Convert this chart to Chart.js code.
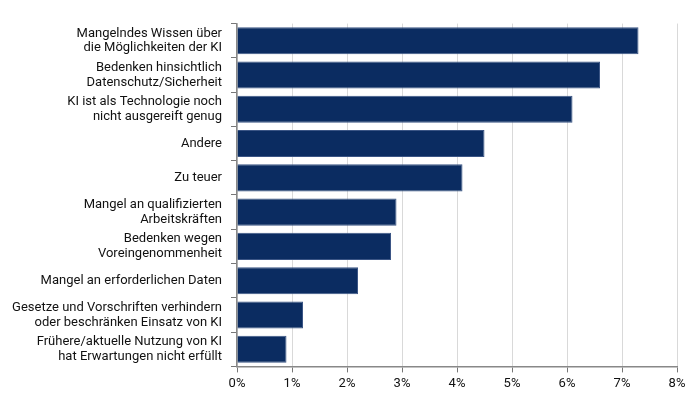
<!DOCTYPE html>
<html><head><meta charset="utf-8">
<script src="https://cdn.jsdelivr.net/npm/chart.js@4"></script>
<style>html,body{margin:0;padding:0;background:#fff}#wrap{width:700px;height:399px}</style>
</head><body><div id="wrap"><canvas id="c" width="700" height="399"></canvas></div>
<script>
const categories = [
  ["Mangelndes Wissen über", "die Möglichkeiten der KI"],
  ["Bedenken hinsichtlich", "Datenschutz/Sicherheit"],
  ["KI ist als Technologie noch", "nicht ausgereift genug"],
  ["Andere"],
  ["Zu teuer"],
  ["Mangel an qualifizierten", "Arbeitskräften"],
  ["Bedenken wegen", "Voreingenommenheit"],
  ["Mangel an erforderlichen Daten"],
  ["Gesetze und Vorschriften verhindern", "oder beschränken Einsatz von KI"],
  ["Frühere/aktuelle Nutzung von KI", "hat Erwartungen nicht erfüllt"]
];
const values = [7.3, 6.6, 6.1, 4.5, 4.1, 2.9, 2.8, 2.2, 1.2, 0.9];
const xTicks = [0, 1, 2, 3, 4, 5, 6, 7, 8];

new Chart(document.getElementById('c'), {
  type: 'bar',
  data: {
    labels: categories,
    datasets: [{
      data: values,
      backgroundColor: '#0b2c61',
      borderColor: '#3b5585',
      borderWidth: 1,
      borderSkipped: 'start',
      categoryPercentage: 1,
      barPercentage: 0.79
    }]
  },
  options: {
    indexAxis: 'y',
    responsive: false,
    animation: false,
    devicePixelRatio: 1,
    layout: { padding: { top: 21, right: 23, bottom: 3, left: 0 } },
    plugins: { legend: { display: false }, tooltip: { enabled: false } },
    scales: {
      x: {
        min: 0, max: 8,
        afterBuildTicks: (s) => { s.ticks = xTicks.map(v => ({ value: v })); },
        grid: { color: '#d9d9d9', lineWidth: 1, tickLength: 6, tickColor: '#777', drawTicks: true },
        border: { color: '#888', width: 1.5 },
        ticks: { color: '#111', font: { family: 'Roboto', size: 13 }, padding: 4,
                 callback: (v) => v + '%' }
      },
      y: {
        afterFit: (s) => { s.width = 237; },
        grid: { display: true, drawOnChartArea: false, tickLength: 6, tickColor: '#777' },
        border: { color: '#888', width: 1.5 },
        ticks: { color: '#111', font: { family: 'Roboto', size: 13, lineHeight: 1.12 }, padding: 9 }
      }
    }
  }
});
</script></body></html>
